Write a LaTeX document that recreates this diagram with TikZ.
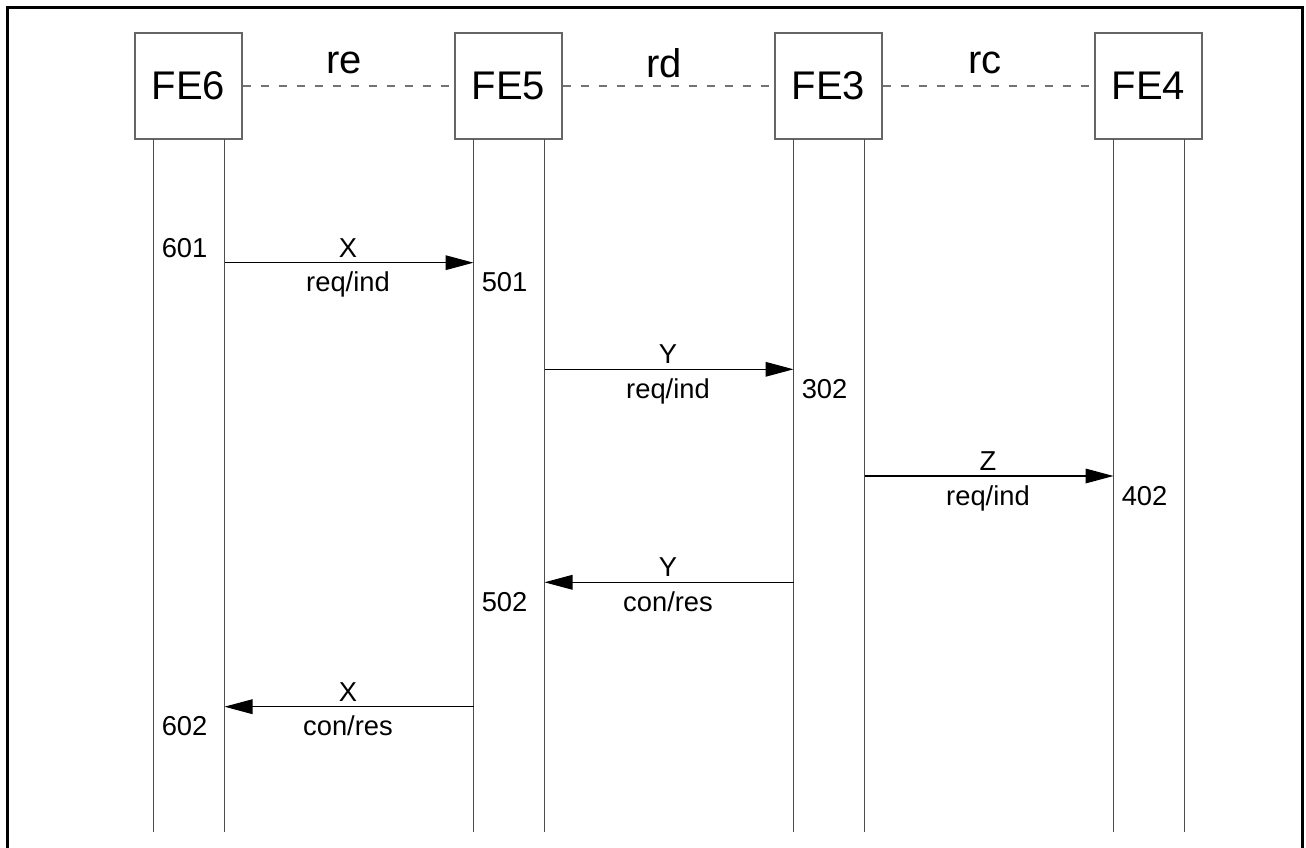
\documentclass[tikz,border=0pt]{standalone}
\usepackage{fontspec}
\setmainfont{Liberation Sans}
\usetikzlibrary{arrows.meta}
\begin{document}
\begin{tikzpicture}[x=0.75pt,y=-0.75pt,
 febox/.style={draw=black!60, line width=1pt, minimum width=80.25pt, minimum height=79.5pt, inner sep=0pt, font=\fontsize{30}{34}\selectfont},
 iface/.style={draw=black!55, line width=0.9pt, dash pattern=on 6pt off 7.5pt},
 ifl/.style={font=\fontsize{30}{34}\selectfont, inner sep=0pt},
 life/.style={draw=black!70, line width=1pt},
 msg/.style={draw=black, line width=0.9pt, -{Triangle[length=21pt,width=11pt]}},
 lbl/.style={font=\fontsize{20.5}{24}\selectfont, inner sep=0pt},
]
\useasboundingbox (0,0) rectangle (1306,848);
\draw[line width=2.3pt] (7.5,848) -- (7.5,7.5) -- (1302.5,7.5) -- (1302.5,848);

% functional entities
\node[febox] (fe6) at (188.5,86) {FE6};
\node[febox] (fe5) at (508.5,86) {FE5};
\node[febox] (fe3) at (828.5,86) {FE3};
\node[febox] (fe4) at (1148.5,86) {FE4};

% relationships
\draw[iface] (fe6.east) -- (fe5.west);
\draw[iface] (fe5.east) -- (fe3.west);
\draw[iface] (fe3.east) -- (fe4.west);
\node[ifl] (re) at (344,63) {re};
\node[ifl] (rd) at (664,63) {rd};
\node[ifl] (rc) at (985,63) {rc};

% lifelines
\foreach \n/\x in {fe6/188.5, fe5/508.5, fe3/828.5, fe4/1148.5}{
  \coordinate (\n-lt) at (\x-35,139);
  \coordinate (\n-lb) at (\x-35,832);
  \coordinate (\n-rt) at (\x+36,139);
  \coordinate (\n-rb) at (\x+36,832);
  \draw[life] (\n-lt) -- (\n-lb);
  \draw[life] (\n-rt) -- (\n-rb);
}

% message end points
\coordinate (m1s) at (224.5,262.7);  \coordinate (m1e) at (473.5,262.7);
\coordinate (m2s) at (544.5,369.3);  \coordinate (m2e) at (793.5,369.3);
\coordinate (m3s) at (864.5,476);    \coordinate (m3e) at (1113.5,476);
\coordinate (m4s) at (793.5,582.3);  \coordinate (m4e) at (544.5,582.3);
\coordinate (m5s) at (473.5,706.7);  \coordinate (m5e) at (224.5,706.7);

\draw[msg] (m1s) -- (m1e);
\draw[msg] (m2s) -- (m2e);
\draw[msg] (m3s) -- (m3e);
\draw[msg] (m4s) -- (m4e);
\draw[msg] (m5s) -- (m5e);

% message labels
\node[lbl, anchor=base] (l1a) at (348,257.3) {X};
\node[lbl, anchor=base] (l1b) at (348,291.7) {req/ind};
\node[lbl, anchor=base] (l2a) at (668,363.9) {Y};
\node[lbl, anchor=base] (l2b) at (668,398.3) {req/ind};
\node[lbl, anchor=base] (l3a) at (988,470.6) {Z};
\node[lbl, anchor=base] (l3b) at (988,505) {req/ind};
\node[lbl, anchor=base] (l4a) at (668,576.9) {Y};
\node[lbl, anchor=base] (l4b) at (668,611.3) {con/res};
\node[lbl, anchor=base] (l5a) at (348,701.3) {X};
\node[lbl, anchor=base] (l5b) at (348,735.7) {con/res};

% state numbers
\node[lbl, anchor=base west] (s601) at (161.5,257.3) {601};
\node[lbl, anchor=base west] (s501) at (481.5,291.7) {501};
\node[lbl, anchor=base west] (s302) at (801.5,398.3) {302};
\node[lbl, anchor=base west] (s402) at (1121.5,505) {402};
\node[lbl, anchor=base west] (s502) at (481.5,611.3) {502};
\node[lbl, anchor=base west] (s602) at (161.5,735.7) {602};
\end{tikzpicture}
\end{document}
